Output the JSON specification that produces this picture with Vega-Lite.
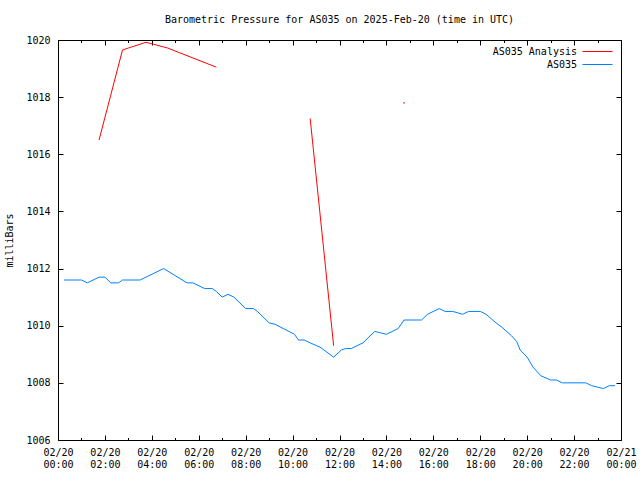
{
  "$schema": "https://vega.github.io/schema/vega-lite/v6.json",
  "width": 563,
  "height": 400,
  "autosize": {"type": "none"},
  "padding": {"left": 58, "top": 40, "right": 19, "bottom": 40},
  "background": "white",
  "config": {
    "view": {"stroke": "black", "strokeWidth": 1},
    "font": "DejaVu Sans Mono",
    "axis": {
      "domain": false,
      "labelFont": "DejaVu Sans Mono",
      "labelFontSize": 10,
      "labelColor": "black",
      "gridColor": "black",
      "gridOpacity": 1,
      "gridWidth": 1,
      "titleFont": "DejaVu Sans Mono",
      "titleFontSize": 10,
      "titleFontWeight": "normal",
      "titleColor": "black"
    },
    "legend": {
      "labelFont": "DejaVu Sans Mono",
      "labelFontSize": 10,
      "labelColor": "black"
    }
  },
  "title": {
    "text": "Barometric Pressure for AS035 on 2025-Feb-20 (time in UTC)",
    "font": "DejaVu Sans Mono",
    "fontSize": 10,
    "fontWeight": "normal",
    "color": "black",
    "anchor": "middle",
    "offset": 10
  },
  "data": {
    "values": [
      {"series": "AS035", "seg": "b", "hour": 0.25, "p": 1011.6},
      {"series": "AS035", "seg": "b", "hour": 1.0, "p": 1011.6},
      {"series": "AS035", "seg": "b", "hour": 1.25, "p": 1011.5},
      {"series": "AS035", "seg": "b", "hour": 1.75, "p": 1011.7},
      {"series": "AS035", "seg": "b", "hour": 2.0, "p": 1011.7},
      {"series": "AS035", "seg": "b", "hour": 2.25, "p": 1011.5},
      {"series": "AS035", "seg": "b", "hour": 2.58, "p": 1011.5},
      {"series": "AS035", "seg": "b", "hour": 2.75, "p": 1011.6},
      {"series": "AS035", "seg": "b", "hour": 3.5, "p": 1011.6},
      {"series": "AS035", "seg": "b", "hour": 4.5, "p": 1012.0},
      {"series": "AS035", "seg": "b", "hour": 5.5, "p": 1011.5},
      {"series": "AS035", "seg": "b", "hour": 5.75, "p": 1011.5},
      {"series": "AS035", "seg": "b", "hour": 6.25, "p": 1011.3},
      {"series": "AS035", "seg": "b", "hour": 6.58, "p": 1011.3},
      {"series": "AS035", "seg": "b", "hour": 6.75, "p": 1011.2},
      {"series": "AS035", "seg": "b", "hour": 7.0, "p": 1011.0},
      {"series": "AS035", "seg": "b", "hour": 7.25, "p": 1011.1},
      {"series": "AS035", "seg": "b", "hour": 7.5, "p": 1011.0},
      {"series": "AS035", "seg": "b", "hour": 8.0, "p": 1010.6},
      {"series": "AS035", "seg": "b", "hour": 8.33, "p": 1010.6},
      {"series": "AS035", "seg": "b", "hour": 8.5, "p": 1010.5},
      {"series": "AS035", "seg": "b", "hour": 9.0, "p": 1010.1},
      {"series": "AS035", "seg": "b", "hour": 9.25, "p": 1010.05},
      {"series": "AS035", "seg": "b", "hour": 10.08, "p": 1009.7},
      {"series": "AS035", "seg": "b", "hour": 10.25, "p": 1009.5},
      {"series": "AS035", "seg": "b", "hour": 10.5, "p": 1009.5},
      {"series": "AS035", "seg": "b", "hour": 10.75, "p": 1009.4},
      {"series": "AS035", "seg": "b", "hour": 11.17, "p": 1009.25},
      {"series": "AS035", "seg": "b", "hour": 11.75, "p": 1008.9},
      {"series": "AS035", "seg": "b", "hour": 12.08, "p": 1009.15},
      {"series": "AS035", "seg": "b", "hour": 12.25, "p": 1009.2},
      {"series": "AS035", "seg": "b", "hour": 12.5, "p": 1009.2},
      {"series": "AS035", "seg": "b", "hour": 12.75, "p": 1009.3},
      {"series": "AS035", "seg": "b", "hour": 13.0, "p": 1009.4},
      {"series": "AS035", "seg": "b", "hour": 13.5, "p": 1009.8},
      {"series": "AS035", "seg": "b", "hour": 13.75, "p": 1009.75},
      {"series": "AS035", "seg": "b", "hour": 14.0, "p": 1009.7},
      {"series": "AS035", "seg": "b", "hour": 14.5, "p": 1009.9},
      {"series": "AS035", "seg": "b", "hour": 14.75, "p": 1010.2},
      {"series": "AS035", "seg": "b", "hour": 15.5, "p": 1010.2},
      {"series": "AS035", "seg": "b", "hour": 15.75, "p": 1010.4},
      {"series": "AS035", "seg": "b", "hour": 16.25, "p": 1010.6},
      {"series": "AS035", "seg": "b", "hour": 16.5, "p": 1010.5},
      {"series": "AS035", "seg": "b", "hour": 16.83, "p": 1010.5},
      {"series": "AS035", "seg": "b", "hour": 17.25, "p": 1010.4},
      {"series": "AS035", "seg": "b", "hour": 17.5, "p": 1010.5},
      {"series": "AS035", "seg": "b", "hour": 18.0, "p": 1010.5},
      {"series": "AS035", "seg": "b", "hour": 18.25, "p": 1010.4},
      {"series": "AS035", "seg": "b", "hour": 18.67, "p": 1010.1},
      {"series": "AS035", "seg": "b", "hour": 18.92, "p": 1009.95},
      {"series": "AS035", "seg": "b", "hour": 19.33, "p": 1009.65},
      {"series": "AS035", "seg": "b", "hour": 19.55, "p": 1009.45},
      {"series": "AS035", "seg": "b", "hour": 19.7, "p": 1009.15},
      {"series": "AS035", "seg": "b", "hour": 20.0, "p": 1008.9},
      {"series": "AS035", "seg": "b", "hour": 20.25, "p": 1008.55},
      {"series": "AS035", "seg": "b", "hour": 20.58, "p": 1008.25},
      {"series": "AS035", "seg": "b", "hour": 21.0, "p": 1008.1},
      {"series": "AS035", "seg": "b", "hour": 21.25, "p": 1008.1},
      {"series": "AS035", "seg": "b", "hour": 21.5, "p": 1008.0},
      {"series": "AS035", "seg": "b", "hour": 22.5, "p": 1008.0},
      {"series": "AS035", "seg": "b", "hour": 22.75, "p": 1007.9},
      {"series": "AS035", "seg": "b", "hour": 23.0, "p": 1007.85},
      {"series": "AS035", "seg": "b", "hour": 23.25, "p": 1007.8},
      {"series": "AS035", "seg": "b", "hour": 23.5, "p": 1007.9},
      {"series": "AS035", "seg": "b", "hour": 23.75, "p": 1007.9},
      {"series": "AS035 Analysis", "seg": "r1", "hour": 1.75, "p": 1016.5},
      {"series": "AS035 Analysis", "seg": "r1", "hour": 2.75, "p": 1019.65},
      {"series": "AS035 Analysis", "seg": "r1", "hour": 3.0, "p": 1019.72},
      {"series": "AS035 Analysis", "seg": "r1", "hour": 3.75, "p": 1019.92},
      {"series": "AS035 Analysis", "seg": "r1", "hour": 4.08, "p": 1019.85},
      {"series": "AS035 Analysis", "seg": "r1", "hour": 4.67, "p": 1019.72},
      {"series": "AS035 Analysis", "seg": "r1", "hour": 6.75, "p": 1019.05},
      {"series": "AS035 Analysis", "seg": "r2", "hour": 10.75, "p": 1017.25},
      {"series": "AS035 Analysis", "seg": "r2", "hour": 11.75, "p": 1009.3},
      {"series": "AS035 Analysis", "seg": "r3", "hour": 14.75, "p": 1017.8}
    ]
  },
  "layer": [
    {
      "transform": [{"filter": "datum.series == 'AS035'"}],
      "mark": {"type": "line", "strokeWidth": 1},
      "encoding": {
        "x": {
          "field": "hour", "type": "quantitative",
          "scale": {"domain": [0, 24], "nice": false, "zero": false},
          "axis": {
            "orient": "bottom",
            "values": [0, 2, 4, 6, 8, 10, 12, 14, 16, 18, 20, 22, 24],
            "ticks": false,
            "grid": true,
            "gridDash": [5, 390, 5, 0],
            "labelPadding": 7,
            "labelLineHeight": 12.5,
            "labelFlush": false,
            "labelOverlap": false,
            "labelExpr": "datum.value >= 24 ? ['02/21', '00:00'] : ['02/20', (datum.value < 10 ? '0' : '') + datum.value + ':00']",
            "title": null
          }
        },
        "y": {
          "field": "p", "type": "quantitative",
          "scale": {"domain": [1006, 1020], "nice": false, "zero": false},
          "axis": {
            "orient": "left",
            "values": [1006, 1008, 1010, 1012, 1014, 1016, 1018, 1020],
            "format": "d",
            "ticks": false,
            "grid": true,
            "gridDash": [5, 553, 5, 0],
            "labelPadding": 8,
            "title": "milliBars",
            "titlePadding": 11
          }
        },
        "color": {
          "field": "series", "type": "nominal",
          "scale": {"domain": ["AS035 Analysis", "AS035"], "range": ["#ff0000", "#0080ff"]},
          "legend": {
            "orient": "top-right",
            "title": null,
            "symbolType": "M-3,0H3",
            "symbolSize": 100,
            "symbolStrokeWidth": 1,
            "labelAlign": "right",
            "labelOffset": -26,
            "rowPadding": 2,
            "offset": 6,
            "padding": 0,
            "encode": {
              "symbols": {
                "update": {
                  "stroke": {"scale": "color", "field": "value"},
                  "fill": {"value": "transparent"}
                }
              }
            }
          }
        }
      }
    },
    {
      "transform": [{"filter": "datum.series == 'AS035 Analysis' && datum.seg != 'r3'"}],
      "mark": {"type": "line", "strokeWidth": 1},
      "encoding": {
        "x": {
          "field": "hour", "type": "quantitative",
          "axis": {"orient": "bottom", "values": [1, 3, 5, 7, 9, 11, 13, 15, 17, 19, 21, 23], "ticks": false, "labels": false, "grid": true, "gridDash": [2.5, 395, 2.5, 0], "title": null}
        },
        "y": {"field": "p", "type": "quantitative", "axis": null},
        "color": {"field": "series", "type": "nominal"},
        "detail": {"field": "seg", "type": "nominal"}
      }
    },
    {
      "transform": [{"filter": "datum.seg == 'r3'"}],
      "mark": {"type": "square", "size": 2, "opacity": 1},
      "encoding": {
        "x": {"field": "hour", "type": "quantitative", "axis": null},
        "y": {"field": "p", "type": "quantitative", "axis": null},
        "color": {"field": "series", "type": "nominal"}
      }
    }
  ],
  "resolve": {"axis": {"x": "independent", "y": "independent"}}
}
